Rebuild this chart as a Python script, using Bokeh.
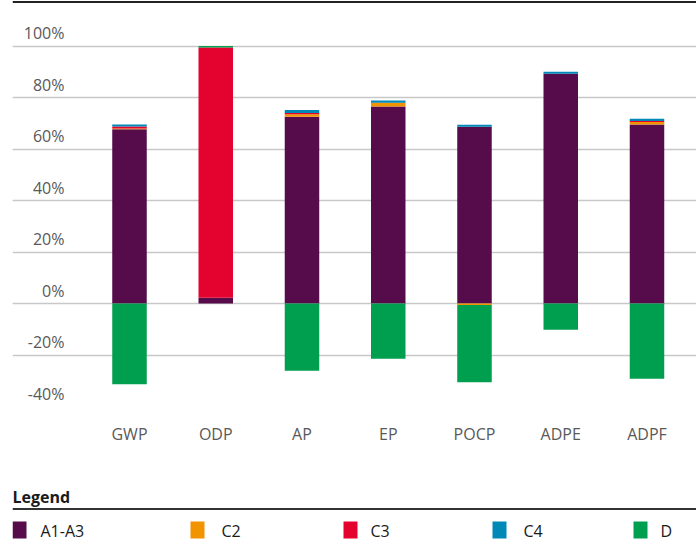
from bokeh.plotting import figure
from bokeh.layouts import column
from bokeh.models import ColumnDataSource, FixedTicker, Grid, Span, Range1d
from bokeh.core.properties import value
from bokeh.embed import file_html
from bokeh.resources import INLINE

# ---- data (percent) ----
categories = ["GWP", "ODP", "AP", "EP", "POCP", "ADPE", "ADPF"]
series_names = ["A1-A3", "C2", "C3", "C4", "D"]
a1_a3 = [67.7, 2.2, 72.5, 76.5, 68.6, 89.2, 69.5]
c2 = [0.3, 0.0, 1.0, 1.5, -0.6, 0.0, 1.0]
c3 = [0.7, 97.2, 0.5, 0.0, 0.0, 0.0, 0.4]
c4 = [0.8, 0.0, 1.1, 0.8, 0.8, 0.8, 0.8]
d = [-31.4, 0.6, -26.1, -21.5, -30.0, -10.2, -29.2]
ytick_values = [100, 80, 60, 40, 20, 0, -20, -40]
ytick_labels = ["100%", "80%", "60%", "40%", "20%", "0%", "-20%", "-40%"]

colors = ["#560B4B", "#F29400", "#E4032E", "#0089B6", "#009E4F"]
FONT = "Open Sans"
GRAY = "#595959"

series = [a1_a3, c2, c3, c4, d]
xs = list(range(len(categories)))

p = figure(width=696, height=470, output_backend="svg", toolbar_location=None,
           x_range=Range1d(-1.3565, 6.574), y_range=Range1d(-40, 117.67),
           min_border_left=12, min_border_right=0, min_border_top=0, min_border_bottom=64,
           y_axis_location=None)
p.outline_line_color = None
p.xgrid.visible = False
p.background_fill_color = "white"

grid = Grid(dimension=1, ticker=FixedTicker(ticks=ytick_values),
            grid_line_color="#C8C8C8", grid_line_width=1.5)
p.add_layout(grid)

# stacked bars (positives up, negatives down)
pos_base = [0.0] * len(categories)
neg_base = [0.0] * len(categories)
for name, vals, col in zip(series_names, series, colors):
    bottoms, tops = [], []
    for i, v in enumerate(vals):
        if v >= 0:
            bottoms.append(pos_base[i]); tops.append(pos_base[i] + v); pos_base[i] += v
        else:
            tops.append(neg_base[i]); bottoms.append(neg_base[i] + v); neg_base[i] += v
    src = ColumnDataSource(dict(x=xs, top=tops, bottom=bottoms))
    p.vbar(x="x", top="top", bottom="bottom", width=0.4, source=src,
           fill_color=col, line_color=None)

# y tick labels above gridlines
ysrc = ColumnDataSource(dict(x=[-0.754] * len(ytick_values), y=ytick_values, t=ytick_labels))
p.text(x="x", y="y", text="t", source=ysrc, text_align="right", text_baseline="bottom",
       y_offset=-2, text_font=value(FONT), text_font_size="16px", text_color=GRAY)

top_line = Span(location=117.1, dimension="width", line_color="#222222", line_width=2)
p.add_layout(top_line)

p.xaxis.ticker = FixedTicker(ticks=xs)
p.xaxis.major_label_overrides = {i: c for i, c in enumerate(categories)}
p.xaxis.axis_line_color = None
p.xaxis.major_tick_line_color = None
p.xaxis.minor_tick_line_color = None
p.xaxis.major_label_standoff = 10
p.xaxis.major_label_text_font = FONT
p.xaxis.major_label_text_font_size = "16px"
p.xaxis.major_label_text_color = GRAY

# ---- legend figure (frame is aligned with the main frame, starting at x=12) ----
lg = figure(width=696, height=76, output_backend="svg", toolbar_location=None,
            x_range=Range1d(12, 696), y_range=Range1d(0, 76),
            min_border_left=12, min_border_right=0, min_border_top=0, min_border_bottom=0,
            x_axis_location=None, y_axis_location=None)
lg.outline_line_color = None
lg.xgrid.visible = False
lg.ygrid.visible = False

lg.text(x=[12], y=[50], text=["Legend"], text_font=value(FONT), text_font_style="bold",
        text_font_size="16px", text_color="#1A1A1A", text_baseline="alphabetic")
lg.segment(x0=[12], y0=[37.5], x1=[696], y1=[37.5], line_color="#333333", line_width=2)

sq_x = [19, 197, 350, 499, 640]
lab_x = [40, 221, 370, 523, 660]
lsrc = ColumnDataSource(dict(x=sq_x, y=[16.5] * 5, c=colors))
lg.rect(x="x", y="y", width=14, height=17, fill_color="c", line_color=None, source=lsrc)
tsrc = ColumnDataSource(dict(x=lab_x, y=[16] * 5, t=series_names))
lg.text(x="x", y="y", text="t", source=tsrc, text_baseline="middle",
        text_font=value(FONT), text_font_size="16px", text_color="#1A1A1A")

layout = column(p, lg, spacing=0)
open("out.html", "w").write(file_html(layout, INLINE))
